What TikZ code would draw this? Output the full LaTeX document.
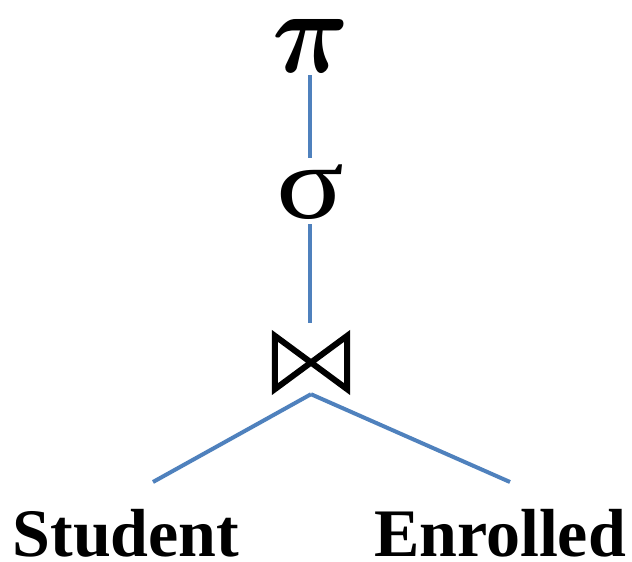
\documentclass[tikz,border=0pt]{standalone}
\usepackage{fontspec}
\setmainfont{Liberation Serif}
\definecolor{edgeblue}{RGB}{79,129,189}
\begin{document}
\begin{tikzpicture}[x=1pt,y=-1pt,
  edge/.style={draw=edgeblue,line width=4pt},
  sym/.style={inner sep=0pt,anchor=base,text=black},
  rel/.style={inner sep=0pt,anchor=base,font=\fontsize{68}{68}\selectfont\bfseries}]
\useasboundingbox (0,0) rectangle (632,562);
\node[sym,font=\Huge\boldmath,xscale=4.3,yscale=4.8] (pi) at (311,72) {$\pi$};
\node[sym,font=\fontsize{105}{105}\selectfont,xscale=1.2] (sigma) at (310,218) {σ};
\node[inner sep=0pt,minimum width=78pt,minimum height=59pt] (join) at (311,362.5) {};
\draw[line width=6pt,line join=miter]
  ([shift={(3pt,-3pt)}]join.north west) -- ([shift={(-3pt,3pt)}]join.south east)
  -- ([shift={(-3pt,-3pt)}]join.north east) -- ([shift={(3pt,3pt)}]join.south west) -- cycle;
\node[rel] (student) at (126,556) {Student};
\node[rel] (enrolled) at (500,556) {Enrolled};
\coordinate (sEnd) at (153,482);
\coordinate (eEnd) at (510,482);
\draw[edge] (310,75) -- (310,158);
\draw[edge] (310,224) -- (310,323);
\draw[edge] ([yshift=-2pt]join.south) -- (sEnd);
\draw[edge] ([yshift=-2pt]join.south) -- (eEnd);
\end{tikzpicture}
\end{document}
